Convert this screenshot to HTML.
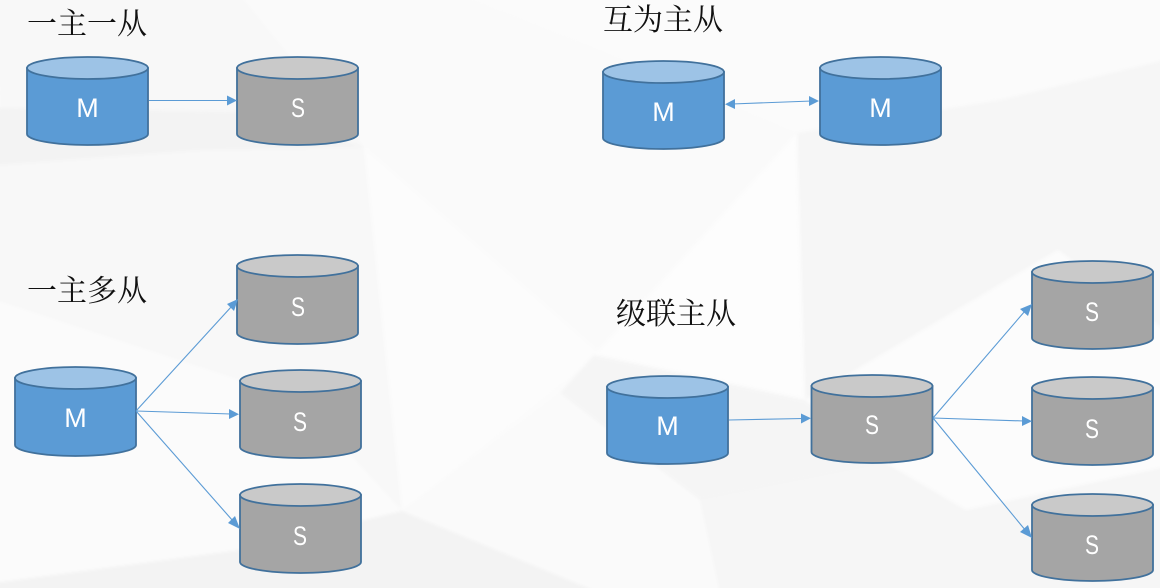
<!DOCTYPE html>
<html><head><meta charset="utf-8"><style>
html,body{margin:0;padding:0;background:#fbfbfb}
svg{display:block}
.c{stroke:#41719c;stroke-width:1.8}
.b{fill:#5b9bd5}.bt{fill:#9dc3e6}
.g{fill:#a5a5a5}.gt{fill:#c9c9c9}
.l{fill:#fff;font:27px "Liberation Sans","DejaVu Sans",sans-serif;text-anchor:middle}
.t{fill:#111;font:30px "Noto Serif CJK SC","Liberation Serif",serif}
.a{stroke:#5b9bd5;stroke-width:1.1;fill:none}
.h{fill:#5b9bd5}
</style></head><body>
<svg width="1160" height="588" viewBox="0 0 1160 588" xmlns="http://www.w3.org/2000/svg">
<defs><filter id="s" x="-5%" y="-5%" width="110%" height="110%"><feGaussianBlur stdDeviation="1.5"/></filter></defs>
<rect width="1160" height="588" fill="#fbfbfb"/>
<g filter="url(#s)">
<polygon points="-5,-5 460,-5 600,50 797,133 594,355 364,147 240,110 0,108" fill="#fafafa"/>
<polygon points="-5,-5 240,-5 364,147 240,112 0,108" fill="#f8f8f8"/>
<polygon points="-5,108 240,112 364,147 600,353 402,511 240,550 -5,583" fill="#f8f8f8"/>
<polygon points="-5,108 240,112 364,147 200,150 -5,165" fill="#f3f3f3"/>
<polygon points="364,147 600,353 402,511" fill="#fcfcfc"/>
<polygon points="-5,300 300,400 402,511 240,550 -5,583" fill="#fbfbfb"/>
<polygon points="-5,583 240,550 402,511 600,593 -5,593" fill="#f3f3f3"/>
<polygon points="797,133 1000,100 1165,60 1165,330 1058,250 805,400" fill="#f6f6f6"/>
<polygon points="797,133 805,400 594,355" fill="#fdfdfd"/>
<polygon points="594,355 805,400 886,463 700,500 560,393" fill="#f5f5f5"/>
<polygon points="1058,250 1165,330 1165,467 966,510 886,463 805,400" fill="#fcfcfc"/>
<polygon points="700,500 886,463 966,510 1165,467 1165,593 600,593 402,511 560,393" fill="#f6f6f6"/>
<polygon points="402,511 560,393 700,500 720,593 600,593" fill="#fafafa"/>
</g>

<g class="c">
<path class="b" d="M27,68V134A60.5,11 0 0 0 148,134V68Z"/><ellipse class="bt" cx="87.5" cy="68" rx="60.5" ry="11"/>
<path class="g" d="M237,68V134A60.5,11 0 0 0 358,134V68Z"/><ellipse class="gt" cx="297.5" cy="68" rx="60.5" ry="11"/>
<path class="b" d="M603,72V138A60.5,11 0 0 0 724,138V72Z"/><ellipse class="bt" cx="663.5" cy="72" rx="60.5" ry="11"/>
<path class="b" d="M820,68V134A60.5,11 0 0 0 941,134V68Z"/><ellipse class="bt" cx="880.5" cy="68" rx="60.5" ry="11"/>
<path class="g" d="M237,266V333A60.5,11 0 0 0 358,333V266Z"/><ellipse class="gt" cx="297.5" cy="266" rx="60.5" ry="11"/>
<path class="g" d="M240,381V447A60.5,11 0 0 0 361,447V381Z"/><ellipse class="gt" cx="300.5" cy="381" rx="60.5" ry="11"/>
<path class="g" d="M240,495V562A60.5,11 0 0 0 361,562V495Z"/><ellipse class="gt" cx="300.5" cy="495" rx="60.5" ry="11"/>
<path class="b" d="M15,378V445A60.5,11 0 0 0 136,445V378Z"/><ellipse class="bt" cx="75.5" cy="378" rx="60.5" ry="11"/>
<path class="b" d="M607,387V453A60.5,11 0 0 0 728,453V387Z"/><ellipse class="bt" cx="667.5" cy="387" rx="60.5" ry="11"/>
<path class="g" d="M811.5,386V452A60.5,11 0 0 0 932.5,452V386Z"/><ellipse class="gt" cx="872" cy="386" rx="60.5" ry="11"/>
<path class="g" d="M1032,272V338A60.5,11 0 0 0 1153,338V272Z"/><ellipse class="gt" cx="1092.500" cy="272" rx="60.5" ry="11"/>
<path class="g" d="M1032,388V454A60.5,11 0 0 0 1153,454V388Z"/><ellipse class="gt" cx="1092.500" cy="388" rx="60.5" ry="11"/>
<path class="g" d="M1032,505V570A60.5,11 0 0 0 1153,570V505Z"/><ellipse class="gt" cx="1092.500" cy="505" rx="60.5" ry="11"/>
</g>

<g class="a">
<path d="M149,100.5H229"/>
<path d="M732,104L812,101"/>
<path d="M136,411L232,306"/>
<path d="M136,411L231,414"/>
<path d="M136,411L233,521"/>
<path d="M729,420L803,418.5"/>
<path d="M933,418L1025,311"/>
<path d="M933,418L1024,421"/>
<path d="M933,418L1026,531"/>
</g>
<g class="h">
<polygon points="237,100.5 227,95.5 227,105.500"/>
<polygon points="725,104.3 735,99 735,109"/>
<polygon points="819,101 809,96 809,106"/>
<polygon points="238,299 234,311 227,304"/>
<polygon points="239,414.3 229,409 229,419"/>
<polygon points="240,529 228,523 235,516"/>
<polygon points="811,418.3 801,413.5 801,423.5"/>
<polygon points="1032,304 1028,316 1020,309"/>
<polygon points="1032,421.3 1022,416 1022,426"/>
<polygon points="1032,538 1020,532 1028,525"/>
</g>

<text class="l" x="87.5" y="117">M</text>
<text class="l" x="298" y="117" textLength="14" lengthAdjust="spacingAndGlyphs">S</text>
<text class="l" x="663.5" y="121">M</text>
<text class="l" x="880.5" y="117">M</text>
<text class="l" x="298" y="316" textLength="14" lengthAdjust="spacingAndGlyphs">S</text>
<text class="l" x="300" y="431" textLength="14" lengthAdjust="spacingAndGlyphs">S</text>
<text class="l" x="300" y="545" textLength="14" lengthAdjust="spacingAndGlyphs">S</text>
<text class="l" x="75.5" y="427">M</text>
<text class="l" x="667.5" y="435">M</text>
<text class="l" x="872" y="434" textLength="14" lengthAdjust="spacingAndGlyphs">S</text>
<text class="l" x="1092" y="321" textLength="14" lengthAdjust="spacingAndGlyphs">S</text>
<text class="l" x="1092" y="438" textLength="14" lengthAdjust="spacingAndGlyphs">S</text>
<text class="l" x="1092" y="554" textLength="14" lengthAdjust="spacingAndGlyphs">S</text>

<text class="t" x="27" y="34">一主一从</text>
<text class="t" x="603" y="30">互为主从</text>
<text class="t" x="27" y="301">一主多从</text>
<text class="t" x="616" y="324">级联主从</text>
</svg>
</body></html>
